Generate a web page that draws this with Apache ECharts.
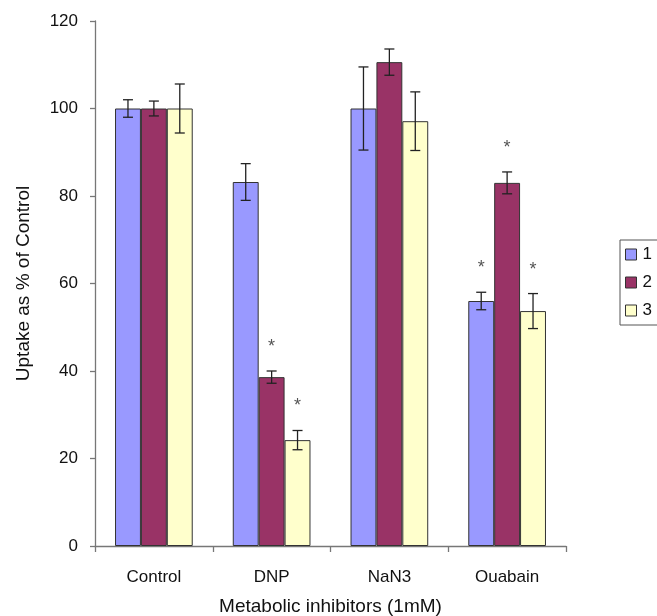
<!DOCTYPE html>
<html>
<head>
<meta charset="utf-8">
<script src="https://cdn.jsdelivr.net/npm/echarts@6/dist/echarts.min.js"></script>
<style>
  html, body { margin: 0; padding: 0; background: #fff; }
  #chart { width: 657px; height: 616px; }
</style>
</head>
<body>
<div id="chart"></div>
<script>
// Uptake per inhibitor, three groups, with standard-error bars
var categories = ['Control', 'DNP', 'NaN3', 'Ouabain'];
var seriesNames = ['1', '2', '3'];
var values1 = [100, 83.2, 100, 56];
var values2 = [100, 38.6, 110.6, 83];
var values3 = [100, 24.2, 97.1, 53.7];
var errors1 = [2, 4.2, 9.5, 2];
var errors2 = [1.7, 1.4, 3, 2.5];
var errors3 = [5.6, 2.2, 6.7, 4];
// significance markers (asterisk above the error bar)
var signif1 = [0, 0, 0, 1];
var signif2 = [0, 1, 0, 1];
var signif3 = [0, 1, 0, 1];
var yTicks = [0, 20, 40, 60, 80, 100, 120];

var colors = ['#9999ff', '#993366', '#ffffcc'];
var values = [values1, values2, values3];
var errors = [errors1, errors2, errors3];
var signif = [signif1, signif2, signif3];
var categoryGap = 0.34;
var font = 'Liberation Sans, Arial, sans-serif';

var chart = echarts.init(document.getElementById('chart'), null, { renderer: 'canvas' });

function errorSeries(k) {
  var data = categories.map(function (c, i) {
    return [i, values[k][i] - errors[k][i], values[k][i] + errors[k][i], signif[k][i]];
  });
  return {
    type: 'custom',
    name: seriesNames[k] + '-err',
    z: 5,
    silent: true,
    data: data,
    encode: { x: 0, y: [1, 2] },
    renderItem: function (params, api) {
      var idx = api.value(0);
      var band = api.size([1, 0])[0];
      var barW = band * (1 - categoryGap) / 3;
      var off = (k - 1) * barW;
      var lo = api.coord([idx, api.value(1)]);
      var hi = api.coord([idx, api.value(2)]);
      var x = lo[0] + off;
      var cap = 5;
      var st = { stroke: '#222', lineWidth: 1.3 };
      var children = [
        { type: 'line', shape: { x1: x, y1: lo[1], x2: x, y2: hi[1] }, style: st },
        { type: 'line', shape: { x1: x - cap, y1: lo[1], x2: x + cap, y2: lo[1] }, style: st },
        { type: 'line', shape: { x1: x - cap, y1: hi[1], x2: x + cap, y2: hi[1] }, style: st }
      ];
      if (api.value(3)) {
        children.push({
          type: 'text',
          style: {
            text: '*', x: x, y: hi[1] - 24,
            fill: '#555', font: '18px ' + font,
            textAlign: 'center', textVerticalAlign: 'middle'
          }
        });
      }
      return { type: 'group', children: children };
    }
  };
}

var series = [];
for (var k = 0; k < 3; k++) {
  series.push({
    type: 'bar',
    name: seriesNames[k],
    data: values[k],
    barGap: 0,
    barCategoryGap: (categoryGap * 100) + '%',
    itemStyle: { color: colors[k], borderColor: '#333', borderWidth: 1 }
  });
}
for (var k2 = 0; k2 < 3; k2++) series.push(errorSeries(k2));

chart.setOption({
  animation: false,
  backgroundColor: '#fff',
  grid: { left: 95, top: 21, width: 471, height: 525, containLabel: false, outerBoundsMode: 'none' },
  legend: {
    data: seriesNames,
    orient: 'vertical',
    left: 620, top: 240,
    padding: [6, 8, 6, 5],
    itemWidth: 11, itemHeight: 11,
    itemGap: 11,
    icon: 'rect',
    borderColor: '#555', borderWidth: 1,
    itemStyle: { borderColor: '#333', borderWidth: 1 },
    textStyle: { fontFamily: font, fontSize: 17, color: '#111', padding: [0, 0, 0, 1] }
  },
  xAxis: {
    type: 'category',
    data: categories,
    name: 'Metabolic inhibitors (1mM)',
    nameLocation: 'middle',
    nameGap: 51,
    nameTextStyle: { fontFamily: font, fontSize: 19, color: '#111' },
    axisLine: { lineStyle: { color: '#777', width: 1.3 } },
    axisTick: { show: true, length: 6, lineStyle: { color: '#777', width: 1.3 } },
    axisLabel: { fontFamily: font, fontSize: 17, color: '#111', margin: 23 }
  },
  yAxis: {
    type: 'value',
    min: yTicks[0], max: yTicks[yTicks.length - 1], interval: 20,
    name: 'Uptake as % of Control',
    nameLocation: 'middle',
    nameGap: 62,
    nameTextStyle: { fontFamily: font, fontSize: 19, color: '#111' },
    splitLine: { show: false },
    axisLine: { show: true, lineStyle: { color: '#777', width: 1.3 } },
    axisTick: { show: true, length: 5, lineStyle: { color: '#777', width: 1.3 } },
    axisLabel: { fontFamily: font, fontSize: 17, color: '#111', margin: 17 }
  },
  series: series
});
</script>
</body>
</html>
